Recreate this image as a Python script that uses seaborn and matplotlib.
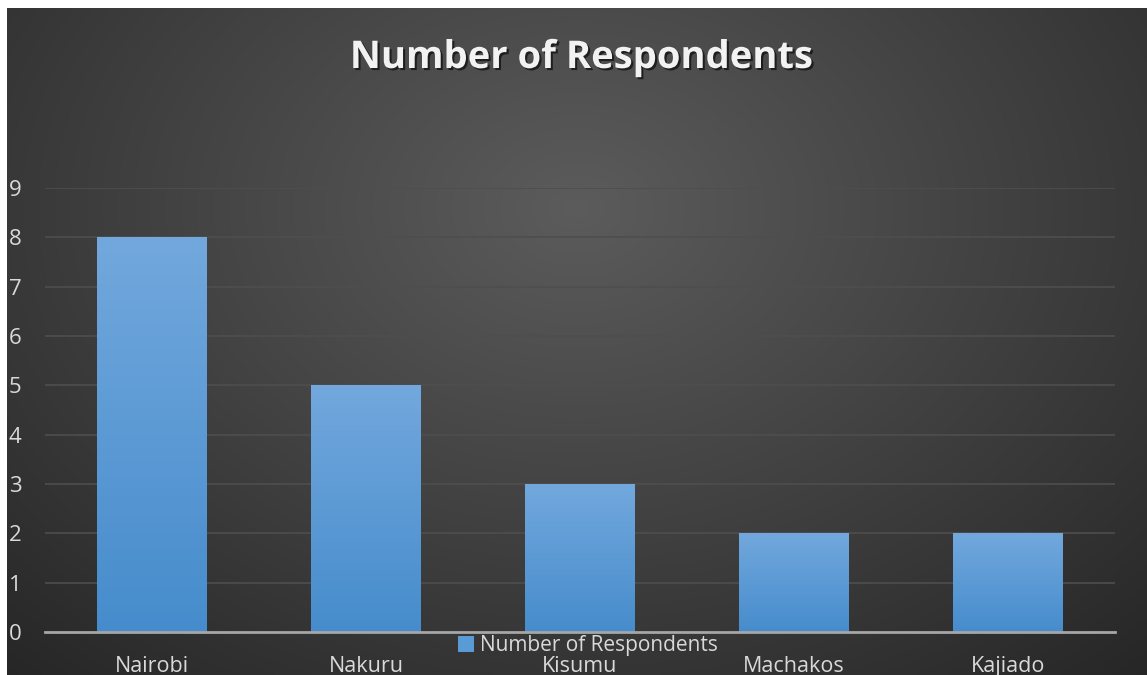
import numpy as np
import matplotlib
matplotlib.use("Agg")
import matplotlib.pyplot as plt
import matplotlib.patheffects as pe
import seaborn as sns

# chart data
counties = ["Nairobi", "Nakuru", "Kisumu", "Machakos", "Kajiado"]
respondents = [8, 5, 3, 2, 2]
y_ticks = [0, 1, 2, 3, 4, 5, 6, 7, 8, 9]

sns.set_theme(style="dark")
plt.rcParams["font.family"] = ["Open Sans", "DejaVu Sans"]

W, H = 1147, 675
fig = plt.figure(figsize=(W / 100, H / 100), dpi=100, facecolor="white")

# dark radial-gradient panel behind the chart
bg = fig.add_axes([7 / W, 0, 1 - 7 / W, (H - 8) / H], zorder=0)
gx, gy = np.meshgrid(np.linspace(0, 1, 400), np.linspace(0, 1, 300))
r = np.sqrt(((gx - 0.5) / 0.75) ** 2 + ((gy - 0.3) / 0.95) ** 2)
r = np.clip(r, 0, 1)
shade = 0.36 - 0.21 * r
bg.imshow(np.dstack([shade, shade, shade]), extent=[0, 1, 0, 1], aspect="auto", origin="upper")
bg.set_axis_off()

ax = fig.add_axes([45 / W, (H - 632) / H, 1070 / W, (632 - 188) / H], zorder=1)
ax.set_facecolor("none")

sns.barplot(x=counties, y=respondents, ax=ax, width=0.51, color="#5b9bd5",
            label="Number of Respondents", linewidth=0, zorder=3)

# vertical gradient on each bar
grad = np.linspace(0, 1, 256).reshape(-1, 1)
top_c = np.array([0x72, 0xa8, 0xdd]) / 255
bot_c = np.array([0x46, 0x8c, 0xcc]) / 255
grad_img = top_c * (1 - grad[..., None]) + bot_c * grad[..., None]
for p in ax.patches:
    x0, w, h = p.get_x(), p.get_width(), p.get_height()
    im = ax.imshow(grad_img, extent=[x0, x0 + w, 0, h], aspect="auto", origin="upper", zorder=4)
    im.set_clip_path(p)

ax.set_xlim(-0.5, len(counties) - 0.5)
ax.set_ylim(0, 9)
ax.set_yticks(y_ticks)
for y in y_ticks[1:]:
    ax.axhline(y, color="#4e4e4e", lw=1.2, zorder=1)

for s in ["top", "right", "left"]:
    ax.spines[s].set_visible(False)
ax.spines["bottom"].set_color("#a6a6a6")
ax.spines["bottom"].set_linewidth(2)
ax.spines["bottom"].set_zorder(5)
ax.grid(False)

ax.tick_params(axis="y", length=0, pad=17, labelsize=16, labelcolor="#d9d9d9")
ax.tick_params(axis="x", length=0, pad=17, labelsize=15.5, labelcolor="#d9d9d9")

leg = ax.legend(loc="center", bbox_to_anchor=(543 / 1070, -0.031), frameon=False,
                fontsize=15, labelcolor="#d9d9d9", handlelength=0.75, handleheight=0.75,
                handletextpad=0.3, borderpad=0)
for hnd in leg.legend_handles:
    hnd.set_edgecolor("none")
    hnd.set_facecolor("#5b9bd5")

fig.text(582 / W, 1 - 58 / H, "Number of Respondents", ha="center", va="center",
         fontsize=27.5, fontweight="bold", color="#f2f2f2",
         path_effects=[pe.withSimplePatchShadow(offset=(1.5, -1.5), shadow_rgbFace="black", alpha=0.6)])

fig.savefig("out.png", dpi=100, facecolor="white")
